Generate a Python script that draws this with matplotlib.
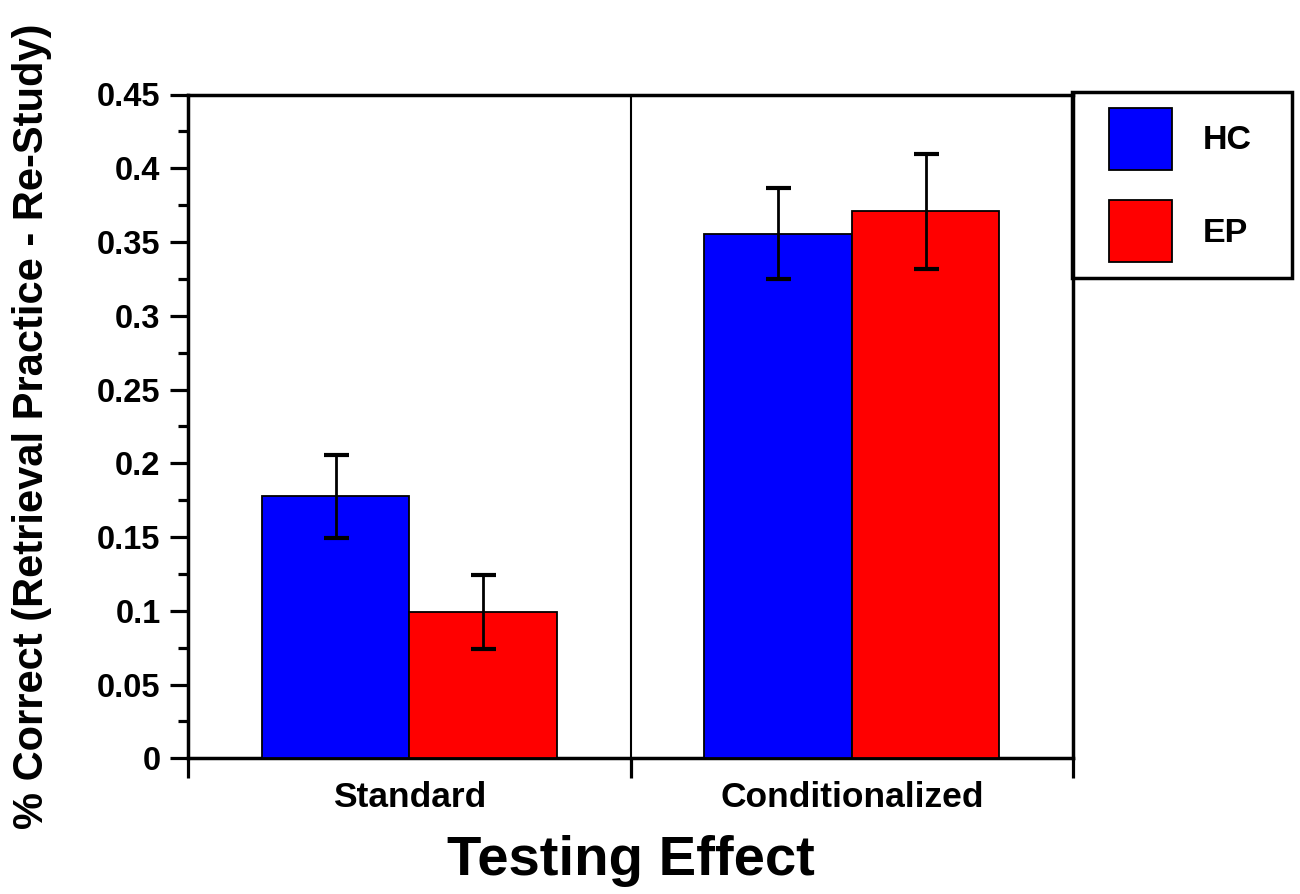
import matplotlib
matplotlib.use("Agg")
import matplotlib.pyplot as plt
import numpy as np
from matplotlib.ticker import MultipleLocator
from matplotlib.patches import Rectangle

# ---- data ----
categories = ["Standard", "Conditionalized"]
groups = ["HC", "EP"]
hc_values = [0.1775, 0.3557]
ep_values = [0.099, 0.3708]
hc_errors = [0.028, 0.031]
ep_errors = [0.025, 0.039]
y_ticks = [0, 0.05, 0.1, 0.15, 0.2, 0.25, 0.3, 0.35, 0.4, 0.45]
y_tick_labels = ["0", "0.05", "0.1", "0.15", "0.2", "0.25", "0.3", "0.35", "0.4", "0.45"]

plt.rcParams['font.family'] = ['Liberation Sans', 'DejaVu Sans']
plt.rcParams['font.weight'] = 'bold'

W, H = 1300, 894
fig = plt.figure(figsize=(13, 8.94), dpi=100)
ax = fig.add_axes([188.3 / W, 1 - 758.3 / H, (1073 - 188.3) / W, (758.3 - 94.5) / H])

centers = np.arange(len(categories)) + 0.5
bw = 1 / 3
err_kw = dict(ecolor="black", elinewidth=2.0, capsize=9, capthick=3)
b1 = ax.bar(centers - bw / 2, hc_values, bw, yerr=hc_errors, color="#0000FF",
            edgecolor="black", linewidth=1.3, label=groups[0], error_kw=err_kw, zorder=3)
b2 = ax.bar(centers + bw / 2, ep_values, bw, yerr=ep_errors, color="#FF0000",
            edgecolor="black", linewidth=1.3, label=groups[1], error_kw=err_kw, zorder=3)

ax.axvline(1, color="black", lw=1.5, zorder=2)

ax.set_xlim(0, 2)
ax.set_ylim(0, 0.45)

for s in ax.spines.values():
    s.set_linewidth(2.5)

# y ticks
ax.set_yticks(y_ticks)
ax.set_yticklabels(y_tick_labels)
ax.yaxis.set_minor_locator(MultipleLocator(0.025))
ax.tick_params(axis="y", which="major", direction="out", length=13, width=2.3,
               labelsize=23.5, pad=7)
ax.tick_params(axis="y", which="minor", direction="out", length=7, width=2.3)
for t in ax.get_yticklabels():
    t.set_fontweight("bold")

# x ticks: major at group boundaries (no labels), minor at centers (labels)
ax.set_xticks([0, 1, 2])
ax.set_xticklabels(["", "", ""])
ax.set_xticks(centers, minor=True)
ax.set_xticklabels(categories, minor=True)
ax.tick_params(axis="x", which="major", direction="out", length=14.5, width=2.3)
ax.tick_params(axis="x", which="minor", length=0, labelsize=25.5, pad=16.5)
for t in ax.get_xticklabels(minor=True):
    t.set_fontweight("bold")

ax.set_ylabel("% Correct (Retrieval Practice - Re-Study)", fontsize=30, fontweight="bold")
ax.yaxis.set_label_coords((52 - 188.3) / (1073 - 188.3), 0.5)
ax.set_xlabel("Testing Effect", fontsize=40.5, fontweight="bold")
ax.xaxis.set_label_coords(0.5, -0.115)

# legend (frameless) + frame box
fs = 24.5
leg = fig.legend(handles=[b1, b2], labels=groups, loc="upper left",
                 bbox_to_anchor=(1109 / W, 1 - 108 / H), frameon=False,
                 borderpad=0, borderaxespad=0,
                 handlelength=63 / 34, handleheight=2.43,
                 labelspacing=0.88, handletextpad=0.9,
                 prop={"weight": "bold", "size": fs})
for p in leg.get_patches():
    p.set_linewidth(1.3)
fig.add_artist(Rectangle((1072 / W, 1 - 278 / H), (1292 - 1072) / W, (278 - 92) / H,
                         transform=fig.transFigure, fill=False, edgecolor="black",
                         linewidth=2.5, clip_on=False))

fig.savefig("out.png", dpi=100)
